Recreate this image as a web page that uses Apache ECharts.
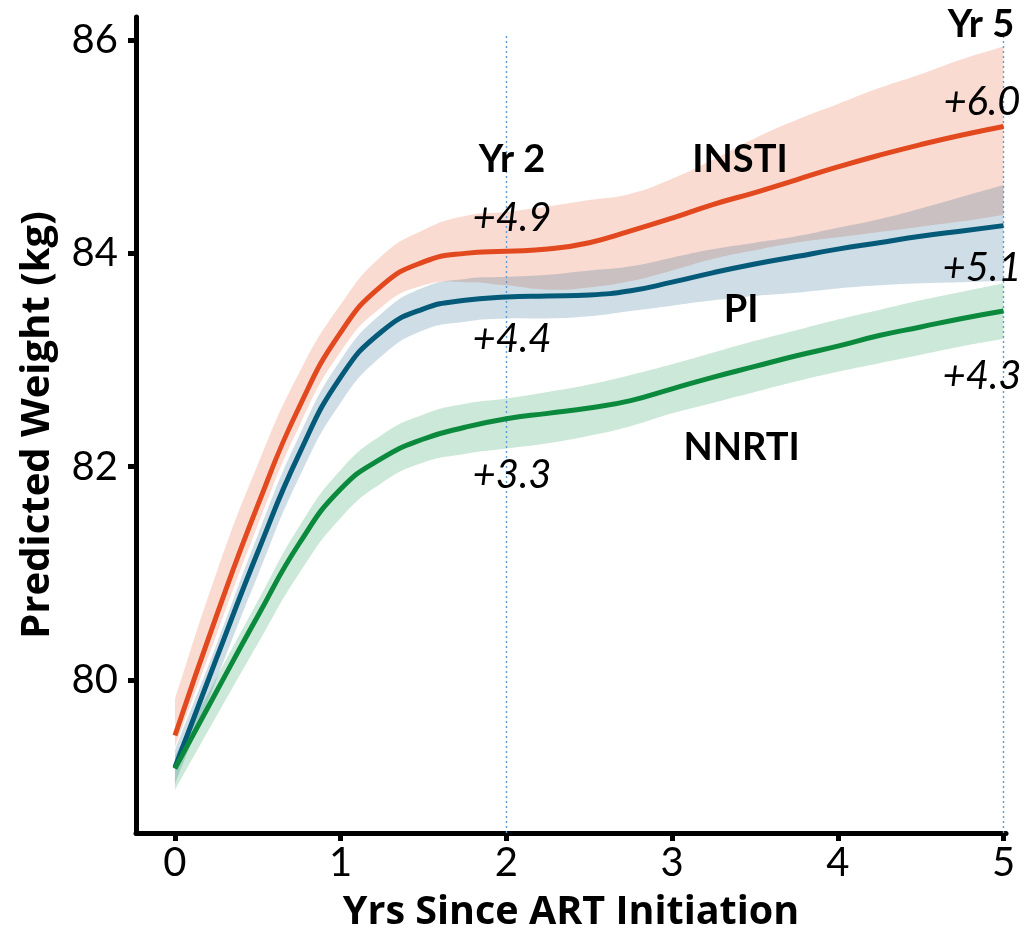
<!DOCTYPE html>
<html>
<head>
<meta charset="utf-8">
<script src="https://cdn.jsdelivr.net/npm/echarts@6/dist/echarts.min.js"></script>
<style>
  html, body { margin: 0; padding: 0; background: #fff; }
  #chart { width: 1030px; height: 940px; }
</style>
</head>
<body>
<div id="chart"></div>
<script>
// ---- Data ----
const years = [0, 0.25, 0.5, 0.75, 1, 1.25, 1.5, 1.75, 2, 2.25, 2.5, 2.75, 3, 3.25, 3.5, 3.75, 4, 4.25, 4.5, 4.75, 5];

const instiFit   = [79.48, 80.60, 81.64, 82.56, 83.26, 83.70, 83.92, 84.00, 84.02, 84.04, 84.10, 84.21, 84.33, 84.46, 84.57, 84.69, 84.81, 84.92, 85.02, 85.11, 85.19];
const instiUpper = [79.82, 81.00, 82.02, 82.88, 83.52, 83.98, 84.22, 84.35, 84.39, 84.44, 84.50, 84.56, 84.70, 84.88, 85.08, 85.25, 85.40, 85.55, 85.68, 85.82, 85.94];
const instiLower = [79.37, 80.42, 81.45, 82.38, 83.08, 83.50, 83.70, 83.73, 83.70, 83.66, 83.68, 83.74, 83.84, 83.95, 84.03, 84.10, 84.15, 84.20, 84.25, 84.30, 84.36];

const piFit   = [79.18, 80.20, 81.20, 82.12, 82.84, 83.27, 83.48, 83.56, 83.59, 83.60, 83.61, 83.65, 83.73, 83.82, 83.90, 83.97, 84.04, 84.10, 84.16, 84.21, 84.26];
const piUpper = [79.34, 80.33, 81.36, 82.29, 83.00, 83.44, 83.68, 83.76, 83.78, 83.80, 83.84, 83.88, 83.96, 84.04, 84.10, 84.16, 84.24, 84.32, 84.42, 84.53, 84.64];
const piLower = [79.02, 80.00, 80.98, 81.90, 82.60, 83.04, 83.28, 83.36, 83.39, 83.39, 83.41, 83.46, 83.51, 83.56, 83.60, 83.63, 83.67, 83.70, 83.72, 83.73, 83.74];

const nnrtiFit   = [79.17, 79.89, 80.60, 81.28, 81.79, 82.08, 82.26, 82.37, 82.45, 82.50, 82.55, 82.62, 82.73, 82.84, 82.94, 83.04, 83.13, 83.23, 83.31, 83.39, 83.46];
const nnrtiUpper = [79.29, 80.02, 80.74, 81.44, 81.97, 82.30, 82.49, 82.59, 82.64, 82.70, 82.77, 82.86, 82.96, 83.07, 83.18, 83.28, 83.38, 83.47, 83.56, 83.64, 83.72];
const nnrtiLower = [78.97, 79.66, 80.34, 81.00, 81.52, 81.85, 82.04, 82.12, 82.17, 82.22, 82.29, 82.38, 82.50, 82.60, 82.70, 82.80, 82.89, 82.97, 83.05, 83.13, 83.20];

const xTicks = [0, 1, 2, 3, 4, 5];
const yTicks = [80, 82, 84, 86];
const markedYears = [2, 5];

const groupNames = ['INSTI', 'PI', 'NNRTI'];
const gainYr2 = ['+4.9', '+4.4', '+3.3'];
const gainYr5 = ['+6.0', '+5.1', '+4.3'];

// ---- Layout / style (not data) ----
const X_MIN = -0.235, X_MAX = 5.015;
const Y_MIN = 78.566, Y_MAX = 86.216;
const FONT = 'Lato';
const TITLE_FONT = 'Open Sans';
const colors = { INSTI: '#e2491f', PI: '#045a78', NNRTI: '#0b8a3d' };
const bandColors = {
  INSTI: 'rgba(230,90,50,0.22)',
  PI: 'rgba(0,80,120,0.19)',
  NNRTI: 'rgba(0,140,60,0.20)'
};

const pairs = (ys) => years.map((x, i) => [x, ys[i]]);

const groups = [
  { name: 'INSTI', fit: instiFit, up: instiUpper, lo: instiLower },
  { name: 'PI', fit: piFit, up: piUpper, lo: piLower },
  { name: 'NNRTI', fit: nnrtiFit, up: nnrtiUpper, lo: nnrtiLower }
];

const series = [];

// confidence bands: closed smooth polygon through upper and lower bounds
groups.forEach(g => {
  series.push({
    type: 'custom', silent: true, z: 1, clip: true,
    data: [[years[0], g.fit[0]]],
    encode: { x: 0, y: 1 },
    renderItem: (params, api) => {
      const top = years.map((x, i) => api.coord([x, g.up[i]]));
      const bot = years.map((x, i) => api.coord([x, g.lo[i]])).reverse();
      // duplicated end points keep the band's end edges sharp
      const pts = [top[0], top[0]].concat(top.slice(1), [top[top.length - 1]],
                   [bot[0]], bot, [bot[bot.length - 1]]);
      return {
        type: 'polygon',
        shape: { points: pts, smooth: 0.5 },
        style: { fill: bandColors[g.name], stroke: null }
      };
    }
  });
});

// fitted lines
groups.forEach(g => {
  series.push({
    type: 'line', name: g.name, data: pairs(g.fit), smooth: 0.5, symbol: 'none',
    lineStyle: { color: colors[g.name], width: 5 }, z: 5
  });
});

// vertical dotted reference lines
series.push({
  type: 'line', data: [], symbol: 'none', z: 3,
  markLine: {
    silent: true, symbol: 'none',
    lineStyle: { color: '#5b9bd5', type: [2, 3], width: 1.4, opacity: 1 },
    label: { show: false },
    data: markedYears.map(yr => [{ coord: [yr, Y_MIN] }, { coord: [yr, 86.05] }])
  }
});

// annotations anchored in data coordinates
const annotations = [
  { text: 'Yr 2', at: [2.034, 84.875], bold: true },
  { text: 'Yr 5', at: [4.864, 86.14], bold: true },
  { text: groupNames[0], at: [3.41, 84.875], bold: true },
  { text: groupNames[1], at: [3.416, 83.47], bold: true },
  { text: groupNames[2], at: [3.42, 82.175], bold: true },
  { text: gainYr2[0], at: [2.034, 84.33] },
  { text: gainYr2[1], at: [2.034, 83.197] },
  { text: gainYr2[2], at: [2.034, 81.92] },
  { text: gainYr5[0], at: [4.87, 85.42] },
  { text: gainYr5[1], at: [4.87, 83.86] },
  { text: gainYr5[2], at: [4.87, 82.85] }
];
series.push({
  type: 'scatter', symbolSize: 1, silent: true, z: 10,
  itemStyle: { opacity: 1, color: 'rgba(0,0,0,0)' },
  data: annotations.map(a => ({
    value: a.at,
    label: {
      show: true, position: 'inside', formatter: a.text,
      color: '#000', opacity: 1, fontFamily: FONT,
      fontSize: a.bold ? 38 : 40,
      fontWeight: a.bold ? 'bold' : 'normal',
      fontStyle: a.bold ? 'normal' : 'italic'
    }
  }))
});

const chart = echarts.init(document.getElementById('chart'), null, { renderer: 'canvas' });
chart.setOption({
  animation: false,
  backgroundColor: '#fff',
  grid: { left: 136, right: 24, top: 17, bottom: 107, containLabel: false },
  xAxis: {
    type: 'value', min: X_MIN, max: X_MAX,
    name: 'Yrs Since ART Initiation', nameLocation: 'middle', nameGap: 60,
    nameTextStyle: { fontFamily: TITLE_FONT, fontWeight: 'bold', fontSize: 39.5, color: '#000' },
    axisLine: { onZero: false, lineStyle: { color: '#000', width: 5 } },
    axisTick: { show: true, length: 8, lineStyle: { color: '#000', width: 5 }, customValues: xTicks },
    axisLabel: { customValues: xTicks, fontFamily: FONT, fontSize: 40, color: '#000', margin: 10 },
    splitLine: { show: false }
  },
  yAxis: {
    type: 'value', min: Y_MIN, max: Y_MAX,
    name: 'Predicted Weight (kg)', nameLocation: 'middle', nameGap: 78,
    nameTextStyle: { fontFamily: TITLE_FONT, fontWeight: 'bold', fontSize: 40, color: '#000' },
    axisLine: { show: true, onZero: false, lineStyle: { color: '#000', width: 5 } },
    axisTick: { show: true, length: 8, lineStyle: { color: '#000', width: 5 }, customValues: yTicks },
    axisLabel: { customValues: yTicks, fontFamily: FONT, fontSize: 40, color: '#000', margin: 18 },
    splitLine: { show: false }
  },
  series: series
});
</script>
</body>
</html>
